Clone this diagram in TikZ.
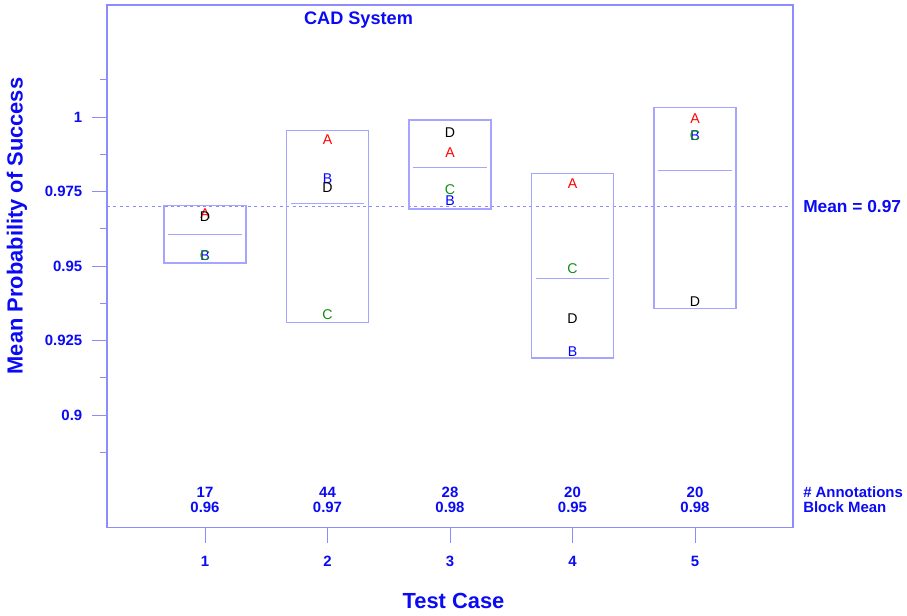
\documentclass[tikz,border=0pt]{standalone}
\usepackage{fontspec}
\setmainfont{Liberation Sans}
\usepackage{tikz}
\usetikzlibrary{positioning}

\definecolor{ejeazul}{RGB}{140,140,255}
\definecolor{cajaazul}{RGB}{165,165,255}
\definecolor{textoazul}{RGB}{10,10,245}
\definecolor{verde}{RGB}{20,140,20}

\begin{document}
\begin{tikzpicture}[x=0.75pt, y=-0.75pt,
    etiq/.style={font=\bfseries\fontsize{11.2}{13}\selectfont, text=textoazul, inner sep=0pt},
    titulo/.style={font=\bfseries\fontsize{16.4}{19}\selectfont, text=textoazul, inner sep=0pt},
    letra/.style={font=\fontsize{10.6}{12}\selectfont, inner sep=0pt},
    caja/.style={draw=cajaazul, line width=0.9pt}]
    \useasboundingbox (0,0) rectangle (907,616);

    % Marco del grafico
    \draw[ejeazul, line width=0.8pt] (107,5) rectangle (793,527.5);

    % Eje y: marcas y valores
    \foreach \v [count=\k] in {0.9,0.925,0.95,0.975,1} {
        \pgfmathsetmacro{\yy}{3097-2980*\v} % Posicion vertical del valor
        \draw[ejeazul] (92,\yy) -- (107,\yy);
        \node[etiq, anchor=east] (ytick\k) at (82.5,\yy) {\v};
    }
    \foreach \v in {0.8875,0.9125,0.9375,0.9625,0.9875,1.0125} {
        \pgfmathsetmacro{\yy}{3097-2980*\v}
        \draw[ejeazul] (100,\yy) -- (107,\yy);
    }

    % Eje x: casos de prueba y resumen por bloque
    \foreach \i/\n/\m in {1/17/0.96,2/44/0.97,3/28/0.98,4/20/0.95,5/20/0.98} {
        \draw[ejeazul] (82.5+122.5*\i,527.5) -- (82.5+122.5*\i,543);
        \node[etiq] (x\i) at (82.5+122.5*\i,561) {\i};
        \node[etiq] (anot\i) at (82.5+122.5*\i,492.5) {\n};
        \node[etiq] (bloq\i) at (82.5+122.5*\i,507) {\m};
    }
    \node[etiq, anchor=west] (anot) at (803,492.5) {\# Annotations};
    \node[etiq, anchor=west] (bloq) at (803,507) {Block Mean};

    % Media global
    \draw[ejeazul, dash pattern=on 2.2pt off 2.6pt] (107,206.4) -- (793,206.4);
    \node[etiq, font=\bfseries\fontsize{13}{15}\selectfont, anchor=west] (media) at (803,206.4) {Mean = 0.97};

    % Titulos
    \node[etiq, font=\bfseries\fontsize{13.6}{16}\selectfont] (sistema) at (358.5,20) {CAD System};
    \node[titulo] (ejex) at (453.5,601) {Test Case};
    \node[titulo, rotate=90] (ejey) at (17,226) {Mean Probability of Success};

    % Datos: x = caso, y = probabilidad
    \begin{scope}[shift={(82.5,3097)}, x=91.875pt, y=2235pt]
        % Cajas y medias de bloque
        \foreach \i/\lo/\hi/\med in {1/0.95101/0.97037/0.96064,2/0.93111/0.99542/0.97104,
                3/0.96913/0.99899/0.98312,4/0.91913/0.98098/0.94574,5/0.93581/1.00326/0.98198} {
            \draw[caja] (\i-0.335,\lo) rectangle (\i+0.335,\hi);
            \draw[caja] (\i-0.3,\med) -- (\i+0.3,\med);
        }
        % Letras de cada anotador
        \foreach \i/\a/\b/\c/\d in {1/0.96765/0.95342/0.95342/0.96651,2/0.99238/0.97943/0.93356/0.97641,
                3/0.98799/0.97191/0.97550/0.99482,4/0.97775/0.92124/0.94899/0.93232,5/0.99943/0.99362/0.99362/0.93802} {
            \node[letra, text=red] (A\i) at (\i,\a) {A};
            \node[letra, text=blue] (B\i) at (\i,\b) {B};
            \node[letra, text=verde] (C\i) at (\i,\c) {C};
            \node[letra, text=black] (D\i) at (\i,\d) {D};
        }
    \end{scope}
\end{tikzpicture}
\end{document}
